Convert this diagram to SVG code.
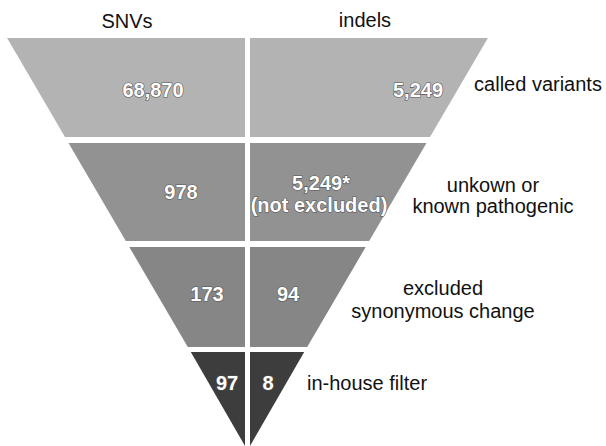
<svg xmlns="http://www.w3.org/2000/svg" width="606" height="446" viewBox="0 0 606 446">
  <style>
    .hdr { font-family: "Liberation Sans", Arial, sans-serif; font-size: 20px; fill: #111; text-anchor: middle; }
    .lbl { font-family: "Liberation Sans", Arial, sans-serif; font-size: 20px; fill: #111; text-anchor: middle; }
    .num { font-family: "Liberation Sans", Arial, sans-serif; font-size: 20px; font-weight: bold; fill: #fff; text-anchor: middle; stroke: #555; stroke-width: 1.2px; paint-order: stroke; }
    .r1 { fill: #b3b3b3; }
    .r2 { fill: #929292; }
    .r3 { fill: #868686; }
    .r4 { fill: #3d3d3d; }
  </style>
  <rect width="606" height="446" fill="#fff"/>
  <text class="hdr" x="127" y="28">SNVs</text>
  <text class="hdr" x="365" y="27">indels</text>

  <g id="row-called-variants">
    <polygon class="r1" points="7.1,38 245,38 245,137 65,137"/>
    <polygon class="r1" points="250,38 487.9,38 430,137 250,137"/>
    <text class="num" x="153" y="97">68,870</text>
    <text class="num" x="418" y="97">5,249</text>
    <text class="lbl" x="538" y="91">called variants</text>
  </g>

  <g id="row-pathogenic">
    <polygon class="r2" points="68.5,143 245,143 245,241 125.8,241"/>
    <polygon class="r2" points="250,143 426.5,143 369.2,241 250,241"/>
    <text class="num" x="181" y="199">978</text>
    <text class="num" x="321" y="190">5,249*</text>
    <text class="num" x="319" y="212">(not excluded)</text>
    <text class="lbl" x="493" y="192">unkown or</text>
    <text class="lbl" x="493" y="213">known pathogenic</text>
  </g>

  <g id="row-synonymous">
    <polygon class="r3" points="129.3,247 245,247 245,347 187.8,347"/>
    <polygon class="r3" points="250,247 365.7,247 307.2,347 250,347"/>
    <text class="num" x="207" y="301">173</text>
    <text class="num" x="288" y="301">94</text>
    <text class="lbl" x="443" y="295">excluded</text>
    <text class="lbl" x="443" y="318">synonymous change</text>
  </g>

  <g id="row-in-house">
    <polygon class="r4" points="190.8,352 245,352 245,446"/>
    <polygon class="r4" points="250,352 304.2,352 250,446"/>
    <text class="num" x="227" y="390">97</text>
    <text class="num" x="268" y="390">8</text>
    <text class="lbl" x="307" y="390" style="text-anchor:start">in-house filter</text>
  </g>

  <g id="connectors"></g>
</svg>
